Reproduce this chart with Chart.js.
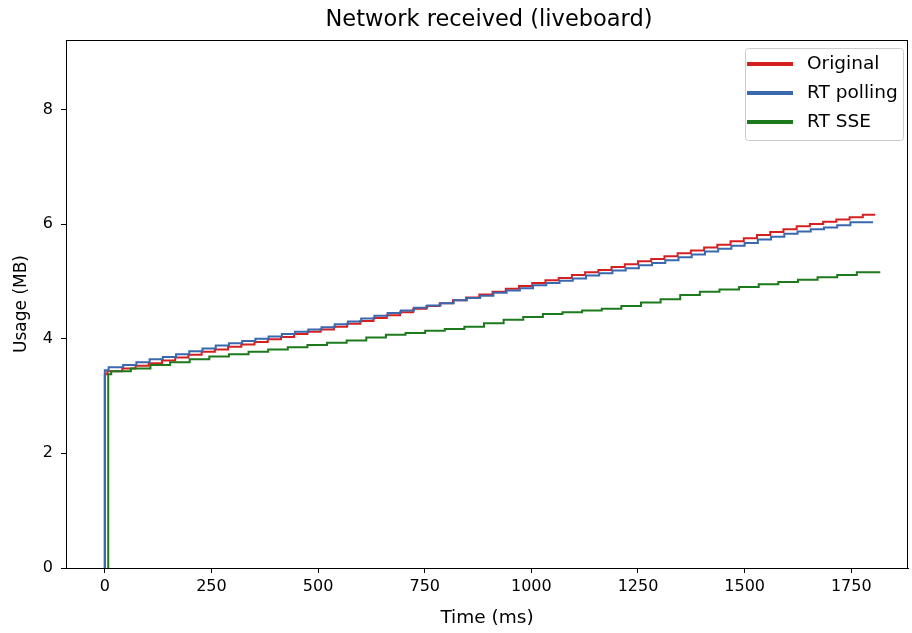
<!DOCTYPE html>
<html>
<head>
<meta charset="utf-8">
<title>Network received (liveboard)</title>
<script src="https://cdn.jsdelivr.net/npm/chart.js@4.4.1/dist/chart.umd.min.js"></script>
<style>
  html, body { margin: 0; padding: 0; background: #fff; }
  #wrap { width: 912px; height: 633px; }
</style>
</head>
<body>
<div id="wrap"><canvas id="myChart" width="912" height="633"></canvas></div>
<script>
// values (time in ms, usage in MB)
var xTicks = [0, 250, 500, 750, 1000, 1250, 1500, 1750];
var yTicks = [0, 2, 4, 6, 8];

var original_t  = [0, 6, 41, 72, 103, 134, 165, 196, 227, 258, 289, 320, 351, 382, 413, 444, 475, 506, 537, 568, 599, 630, 661, 692, 723, 754, 785, 816, 847, 878, 909, 940, 971, 1002, 1033, 1064, 1095, 1126, 1157, 1188, 1219, 1250, 1281, 1312, 1343, 1374, 1405, 1436, 1467, 1498, 1529, 1560, 1591, 1622, 1653, 1684, 1715, 1746, 1777, 1806];
var original_mb = [0, 3.38, 3.43, 3.48, 3.53, 3.57, 3.62, 3.67, 3.72, 3.77, 3.81, 3.86, 3.90, 3.94, 3.99, 4.03, 4.08, 4.12, 4.16, 4.21, 4.26, 4.31, 4.36, 4.41, 4.46, 4.52, 4.57, 4.62, 4.67, 4.72, 4.77, 4.82, 4.87, 4.92, 4.97, 5.02, 5.06, 5.11, 5.16, 5.20, 5.25, 5.30, 5.35, 5.39, 5.44, 5.49, 5.54, 5.59, 5.64, 5.70, 5.75, 5.81, 5.86, 5.91, 5.96, 6.00, 6.04, 6.08, 6.12, 6.16, 6.16];

var polling_t  = [0, 9, 43, 74, 105, 136, 167, 198, 229, 260, 291, 322, 353, 384, 415, 446, 477, 508, 539, 570, 601, 632, 663, 694, 725, 756, 787, 818, 849, 880, 911, 942, 973, 1004, 1035, 1066, 1097, 1128, 1159, 1190, 1221, 1252, 1283, 1314, 1345, 1376, 1407, 1438, 1469, 1500, 1531, 1562, 1593, 1624, 1655, 1686, 1717, 1748, 1779, 1801];
var polling_mb = [0, 3.45, 3.50, 3.54, 3.59, 3.64, 3.68, 3.73, 3.78, 3.83, 3.88, 3.92, 3.96, 4.00, 4.04, 4.08, 4.12, 4.16, 4.20, 4.25, 4.30, 4.35, 4.40, 4.45, 4.49, 4.54, 4.58, 4.62, 4.67, 4.71, 4.75, 4.80, 4.84, 4.88, 4.93, 4.97, 5.01, 5.05, 5.10, 5.14, 5.19, 5.23, 5.28, 5.32, 5.37, 5.42, 5.47, 5.52, 5.57, 5.62, 5.67, 5.73, 5.78, 5.83, 5.87, 5.91, 5.94, 5.98, 6.03, 6.03];

var sse_t  = [8, 15, 61, 107, 153, 199, 245, 291, 337, 383, 429, 475, 521, 567, 613, 659, 705, 751, 797, 843, 889, 935, 981, 1027, 1073, 1119, 1165, 1211, 1257, 1303, 1349, 1395, 1441, 1487, 1533, 1579, 1625, 1671, 1717, 1763, 1818];
var sse_mb = [0, 3.38, 3.43, 3.48, 3.54, 3.59, 3.64, 3.69, 3.73, 3.77, 3.81, 3.85, 3.89, 3.93, 3.97, 4.02, 4.07, 4.10, 4.14, 4.17, 4.21, 4.27, 4.33, 4.38, 4.43, 4.46, 4.49, 4.52, 4.57, 4.63, 4.69, 4.76, 4.82, 4.86, 4.90, 4.95, 4.99, 5.03, 5.07, 5.11, 5.16];

var seriesNames = ['Original', 'RT polling', 'RT SSE'];
var seriesColors = ['#d62020', '#3a68ae', '#1c7a1c'];

var titulo = 'Network received (liveboard)';

function puntos(t, mb) {
  var out = [];
  t.forEach(function (valor, i) {
    out.push({ x: valor, y: mb[i] });
  });
  return out;
}

// title centred over the plot area, plus the 4-sided axes box
var marco = {
  id: 'marco',
  afterDraw: function (chart) {
    var ctx = chart.ctx, a = chart.chartArea;
    ctx.save();
    ctx.strokeStyle = '#000';
    ctx.lineWidth = 1;
    ctx.strokeRect(Math.round(a.left) + 0.5, Math.round(a.top) + 0.5,
      Math.round(a.right - a.left) - 1, Math.round(a.bottom - a.top));
    ctx.fillStyle = '#000';
    ctx.font = '22.5px "DejaVu Sans"';
    ctx.textAlign = 'center';
    ctx.textBaseline = 'middle';
    ctx.fillText(titulo, (a.left + a.right) / 2 + 2, 20);
    ctx.restore();
  }
};

// legend box inside the plot, top right
var leyenda = {
  id: 'leyenda',
  afterDraw: function (chart) {
    var ctx = chart.ctx, a = chart.chartArea;
    var bx = 745, by = a.top + 8, bw = 158, bh = 92;
    ctx.save();
    ctx.fillStyle = 'rgba(255,255,255,0.8)';
    ctx.strokeStyle = '#cccccc';
    ctx.lineWidth = 1;
    ctx.beginPath();
    ctx.roundRect(bx + 0.5, by + 0.5, bw, bh, 3);
    ctx.fill();
    ctx.stroke();
    ctx.font = '18.5px "DejaVu Sans"';
    ctx.textBaseline = 'middle';
    chart.data.datasets.forEach(function (ds, i) {
      var y = by + 16 + i * 29;
      ctx.strokeStyle = ds.borderColor;
      ctx.lineWidth = 4;
      ctx.beginPath();
      ctx.moveTo(bx + 2, y);
      ctx.lineTo(bx + 48, y);
      ctx.stroke();
      ctx.fillStyle = '#000';
      ctx.fillText(ds.label, bx + 62, y);
    });
    ctx.restore();
  }
};

var datos = [puntos(original_t, original_mb), puntos(polling_t, polling_mb), puntos(sse_t, sse_mb)];

var ctx = document.getElementById('myChart').getContext('2d');
var myChart = new Chart(ctx, {
  type: 'line',
  data: {
    datasets: [0, 1, 2].map(function (i) {
      return {
        label: seriesNames[i],
        data: datos[i],
        borderColor: seriesColors[i],
        backgroundColor: seriesColors[i],
        borderWidth: 2,
        pointRadius: 0,
        stepped: 'after',
        fill: false,
        order: 3 - i
      };
    })
  },
  options: {
    responsive: false,
    animation: false,
    devicePixelRatio: 1,
    layout: { padding: { left: 0, right: 4, top: 40, bottom: 0 } },
    plugins: {
      legend: { display: false },
      tooltip: { enabled: false },
      title: { display: false }
    },
    scales: {
      x: {
        type: 'linear',
        min: -91,
        max: 1883,
        afterBuildTicks: function (scale) {
          scale.ticks = xTicks.map(function (v) { return { value: v }; });
        },
        afterFit: function (scale) { scale.height = 65; },
        ticks: {
          color: '#000',
          font: { family: 'DejaVu Sans', size: 16 },
          padding: 4,
          maxRotation: 0,
          callback: function (v) { return String(v); }
        },
        grid: { drawOnChartArea: false, drawTicks: true, tickLength: 5, color: '#000' },
        border: { display: true, color: '#000', width: 1 },
        title: {
          display: true,
          text: 'Time (ms)',
          color: '#000',
          font: { family: 'DejaVu Sans', size: 18.5 },
          padding: { top: 0, bottom: 4 }
        }
      },
      y: {
        type: 'linear',
        min: 0,
        max: 9.21,
        afterBuildTicks: function (scale) {
          scale.ticks = yTicks.map(function (v) { return { value: v }; });
        },
        afterFit: function (scale) { scale.width = 66; },
        ticks: {
          color: '#000',
          font: { family: 'DejaVu Sans', size: 16 },
          padding: 8,
          callback: function (v) { return String(v); }
        },
        grid: { drawOnChartArea: false, drawTicks: true, tickLength: 5, color: '#000' },
        border: { display: true, color: '#000', width: 1 },
        title: {
          display: true,
          text: 'Usage (MB)',
          color: '#000',
          font: { family: 'DejaVu Sans', size: 17 },
          padding: { top: 11, bottom: 0 }
        }
      }
    }
  },
  plugins: [marco, leyenda]
});
</script>
</body>
</html>
